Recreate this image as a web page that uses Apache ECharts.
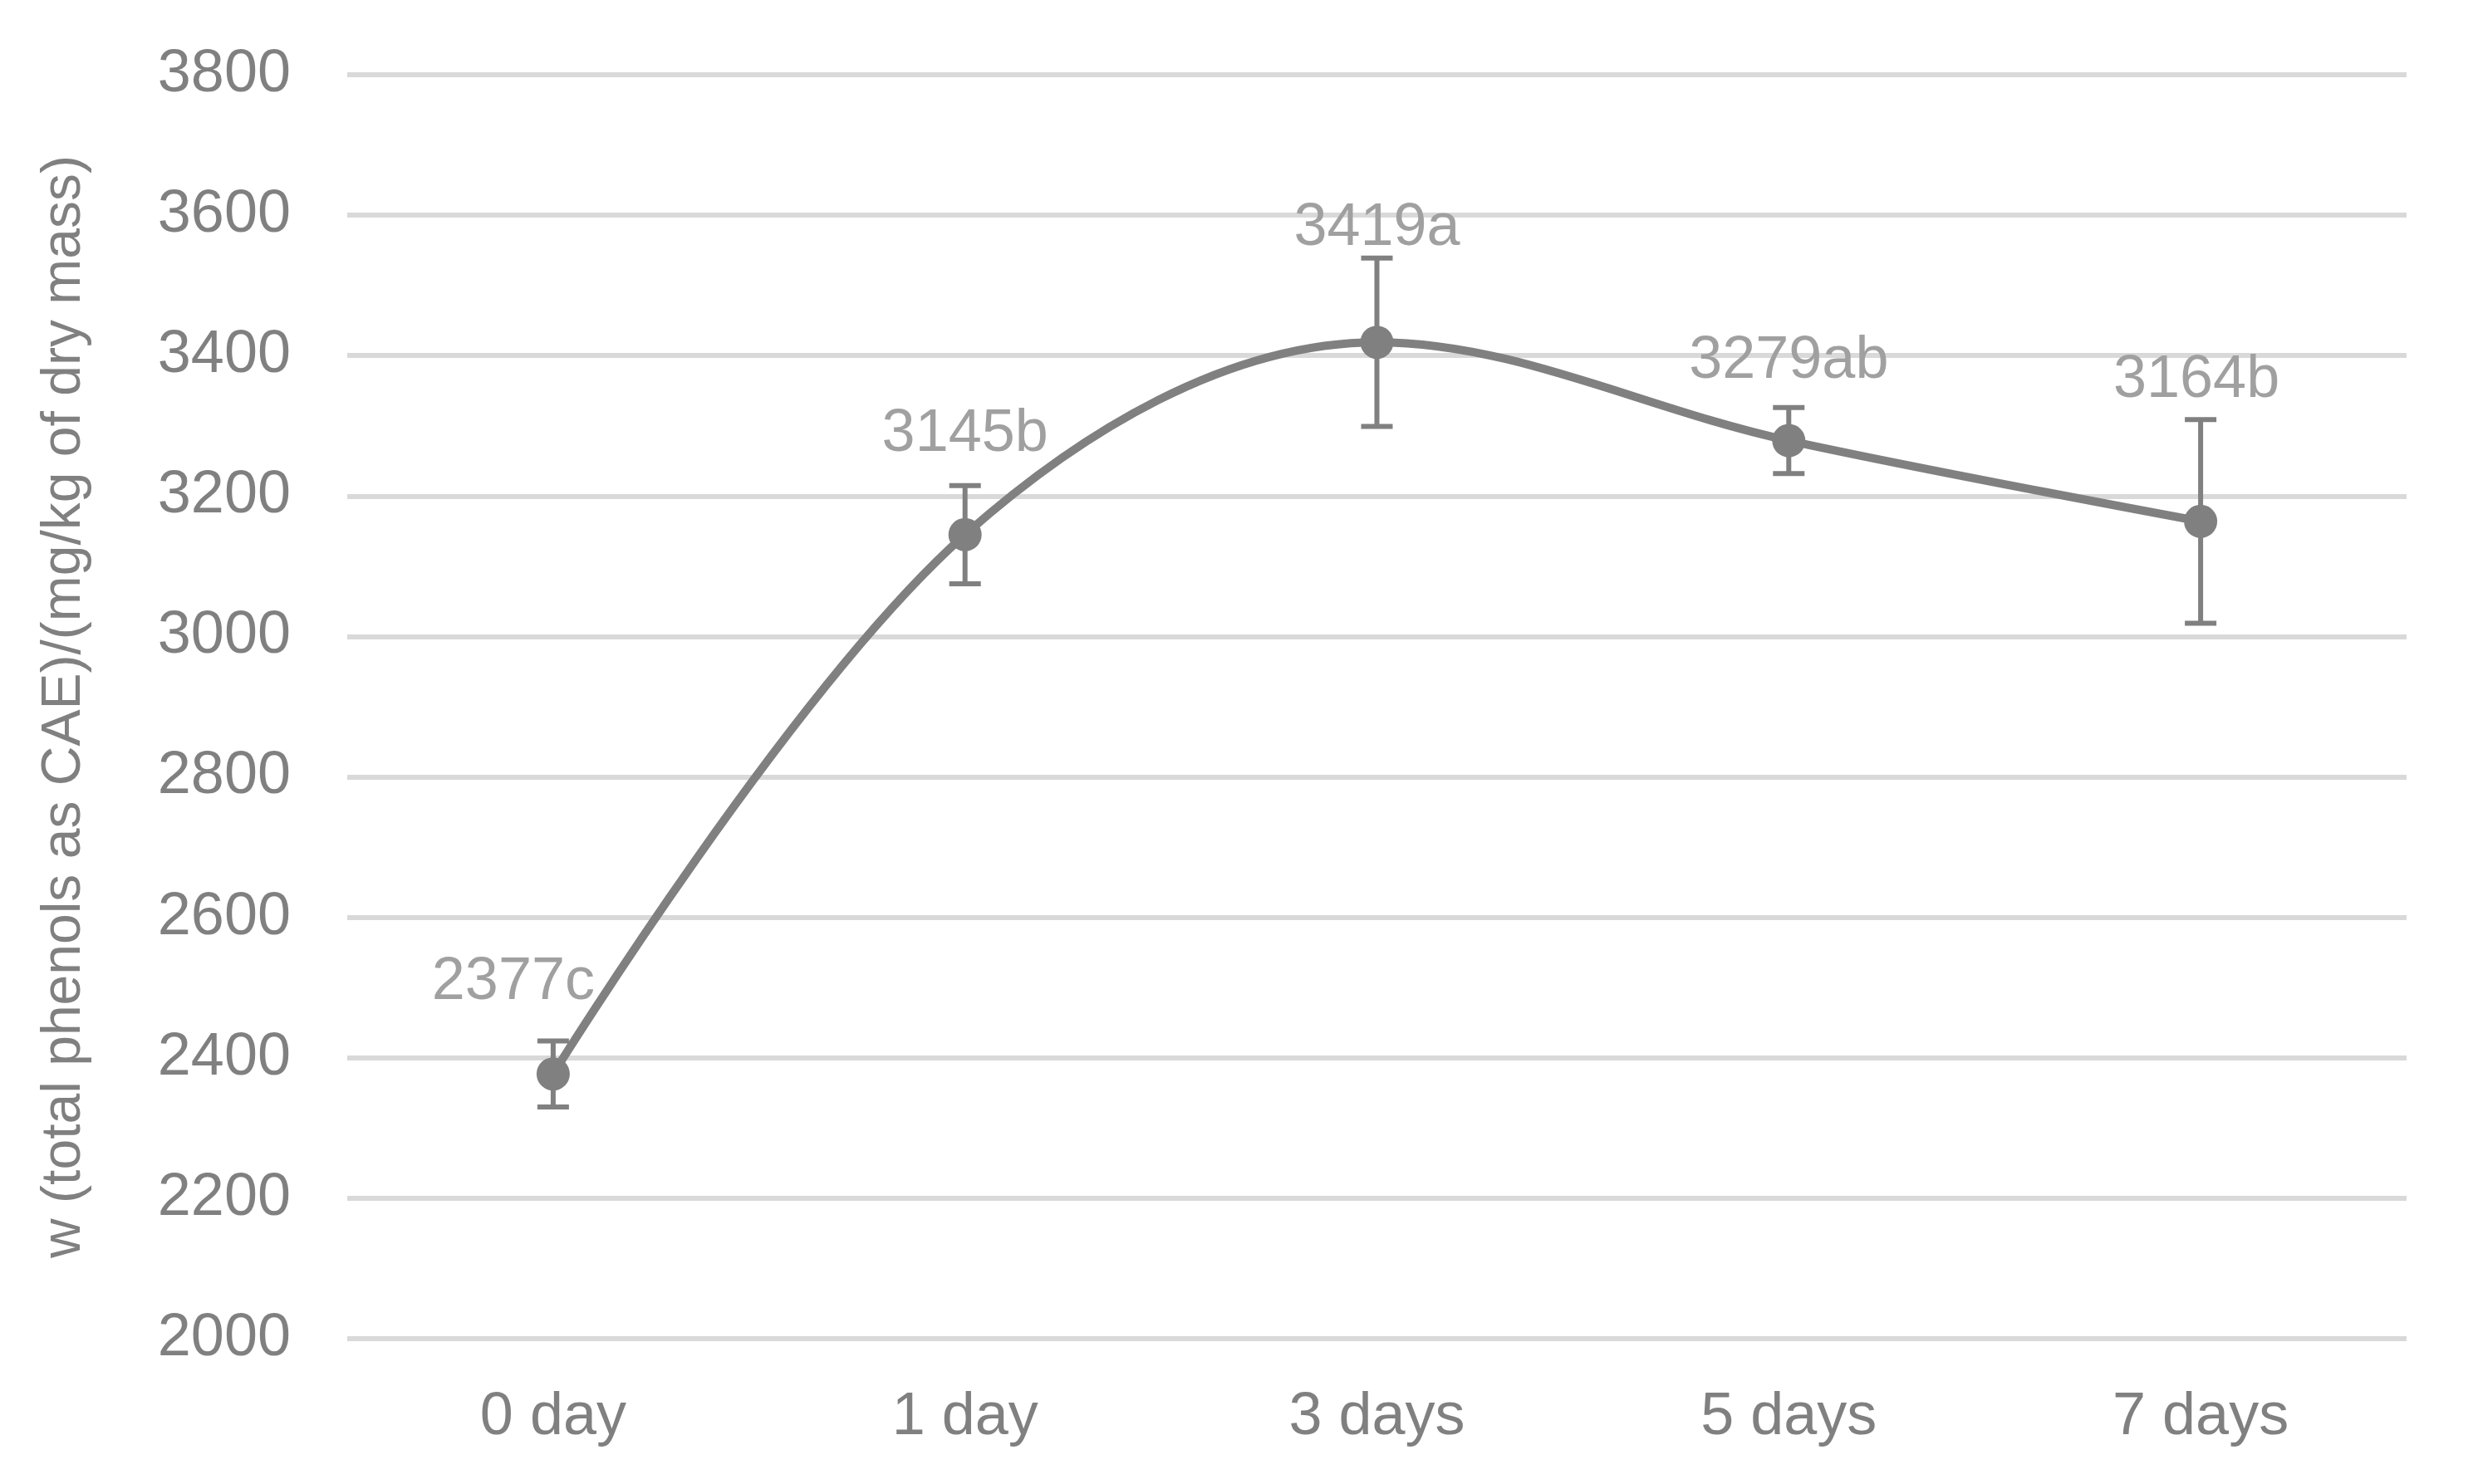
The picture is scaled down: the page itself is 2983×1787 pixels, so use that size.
<!DOCTYPE html>
<html>
<head>
<meta charset="utf-8">
<script src="https://cdn.jsdelivr.net/npm/echarts@6/dist/echarts.min.js"></script>
<style>
html, body { margin: 0; padding: 0; background: #fff; }
#main { width: 2983px; height: 1787px; }
</style>
</head>
<body>
<div id="main"></div>
<script>
// data
var days = ['0 day', '1 day', '3 days', '5 days', '7 days'];
var phenols = [2377, 3145, 3419, 3279, 3164];
var errors = [47, 70, 120, 47, 145];
var letters = ['c', 'b', 'a', 'ab', 'b'];
var yMin = 2000, yMax = 3800, yStep = 200;

// where each value label sits relative to its point (px)
var labelOffsets = [[-48, -110], [0, -121], [0, -137], [0, -95], [-5, -170]];

var font = 'Liberation Sans, Arial, sans-serif';
var grey = '#808080';

var myChart = echarts.init(document.getElementById('main'));

var errData = phenols.map(function (v, i) {
    return [i, v - errors[i], v + errors[i]];
});

var option = {
    backgroundColor: '#fff',
    animation: false,
    grid: { left: 418, right: 86, top: 90, bottom: 175 },
    xAxis: {
        type: 'category',
        data: days,
        boundaryGap: true,
        axisLine: { show: false },
        axisTick: { show: false },
        axisLabel: { color: grey, fontSize: 72, fontFamily: font, margin: 59 }
    },
    yAxis: {
        type: 'value',
        min: yMin,
        max: yMax,
        interval: yStep,
        name: 'w (total phenols as CAE)/(mg/kg of dry mass)',
        nameLocation: 'middle',
        nameGap: 307,
        nameTextStyle: { color: grey, fontSize: 66, fontFamily: font },
        axisLine: { show: false },
        axisTick: { show: false },
        axisLabel: {
            color: grey, fontSize: 72, fontFamily: font, margin: 68,
            formatter: function (v) { return String(v); }
        },
        splitLine: { lineStyle: { color: '#d9d9d9', width: 6 } }
    },
    series: [
        {
            type: 'custom',
            data: errData,
            z: 2,
            renderItem: function (params, api) {
                var x = api.value(0);
                var lo = api.coord([x, api.value(1)]);
                var hi = api.coord([x, api.value(2)]);
                var w = 19;
                var st = { stroke: grey, lineWidth: 6 };
                return {
                    type: 'group',
                    children: [
                        { type: 'line', shape: { x1: hi[0], y1: hi[1], x2: lo[0], y2: lo[1] }, style: st },
                        { type: 'line', shape: { x1: hi[0] - w, y1: hi[1], x2: hi[0] + w, y2: hi[1] }, style: st },
                        { type: 'line', shape: { x1: lo[0] - w, y1: lo[1], x2: lo[0] + w, y2: lo[1] }, style: st }
                    ]
                };
            }
        },
        {
            type: 'line',
            z: 3,
            smooth: 0.35,
            symbol: 'circle',
            symbolSize: 40,
            itemStyle: { color: grey },
            lineStyle: { color: grey, width: 10 },
            data: phenols.map(function (v, i) {
                return { value: v, label: { offset: labelOffsets[i] } };
            }),
            label: {
                show: true,
                position: 'inside',
                color: '#a0a0a0',
                fontSize: 72,
                fontFamily: font,
                formatter: function (p) {
                    return p.value + letters[p.dataIndex];
                }
            }
        }
    ]
};

myChart.setOption(option, true);
window.onresize = myChart.resize;
</script>
</body>
</html>
